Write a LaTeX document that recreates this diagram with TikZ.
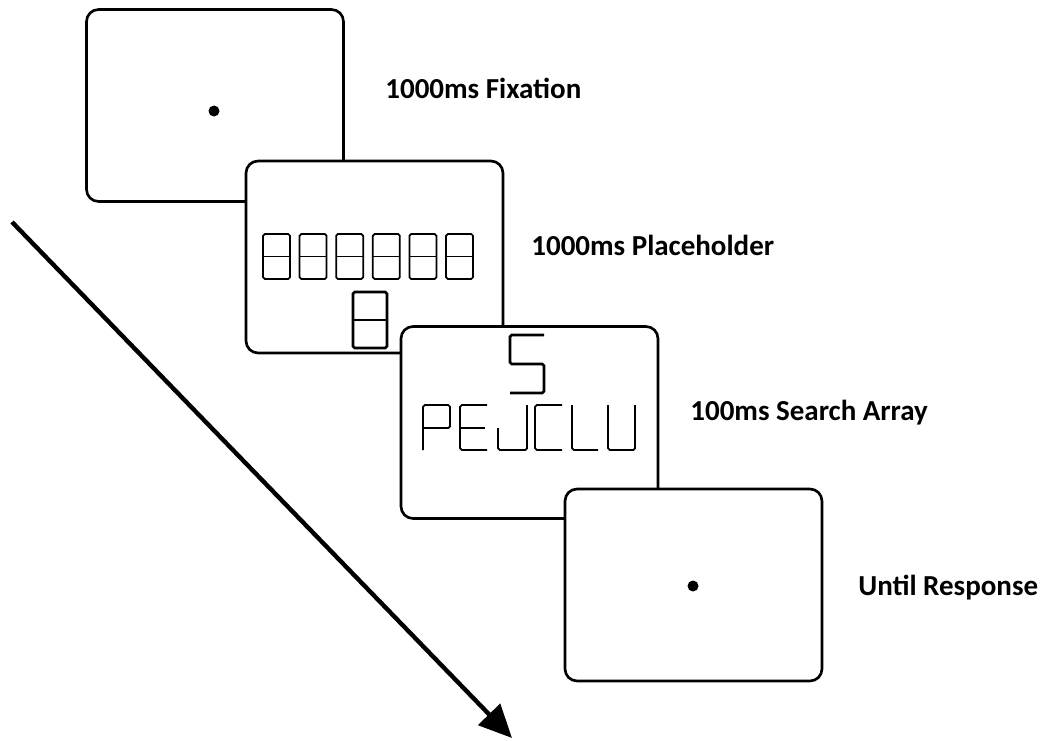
\documentclass[tikz,border=0pt]{standalone}
\usepackage{fontspec}
\newfontfamily\labelfont{Carlito}
\usetikzlibrary{arrows.meta}

\tikzset{
  screen/.style={draw, fill=white, line width=1.5pt, rounded corners=0.24cm,
    minimum width=5.14cm, minimum height=3.84cm, inner sep=0pt},
  steplabel/.style={anchor=base west, inner sep=0pt,
    font=\labelfont\bfseries\fontsize{16.5}{19}\selectfont},
  seg/.style={line width=1pt, rounded corners=1pt},
  bigseg/.style={line width=1.5pt, rounded corners=1pt}
}

\begin{document}
\begin{tikzpicture}[x=0.02cm, y=-0.02cm]
        \useasboundingbox (0,0) rectangle (1050,740);

        % time arrow
        \coordinate (tstart) at (12,222);
        \coordinate (tend) at (512,738);
        \draw[line width=2.5pt, -{Triangle[length=0.66cm, width=0.6cm]}] (tstart) -- (tend);

        % screens, later ones on top
        \node[screen] (fix) at (215,105.5) {};
        \fill (214,111) circle (0.11cm);
        \node[steplabel] (fixlabel) at (385,98) {1000ms Fixation};

        \node[screen] (place) at (374.5,257) {};
        \foreach \i in {0,...,5} {
            \draw[seg] (263+36.6*\i,234) rectangle ++(27,45);
            \draw[seg] (263+36.6*\i,256.5) -- ++(27,0);
        }
        \draw[bigseg] (353,292) rectangle (387,348);
        \draw[bigseg] (353,320) -- (387,320);
        \node[steplabel] (placelabel) at (531,255) {1000ms Placeholder};

        \node[screen] (search) at (529.5,422.5) {};
        \draw[bigseg] (544,335) -- (510,335) -- (510,364) -- (544,364) -- (544,393) -- (510,393);
        \begin{scope}[shift={(423,405)}]
            \draw[seg] (0,45) -- (0,0) -- (27,0) -- (27,23) -- (0,23);
        \end{scope}
        \begin{scope}[shift={(460,405)}]
            \draw[seg] (27,0) -- (0,0) -- (0,45) -- (27,45);
            \draw[seg] (0,23) -- (25,23);
        \end{scope}
        \begin{scope}[shift={(498,405)}]
            \draw[seg] (29,0) -- (29,45) -- (0,45) -- (0,23);
        \end{scope}
        \begin{scope}[shift={(535,405)}]
            \draw[seg] (27,0) -- (0,0) -- (0,45) -- (27,45);
        \end{scope}
        \begin{scope}[shift={(572,405)}]
            \draw[seg] (0,0) -- (0,45) -- (26,45);
        \end{scope}
        \begin{scope}[shift={(608,405)}]
            \draw[seg] (0,0) -- (0,45) -- (27,45) -- (27,0);
        \end{scope}
        \node[steplabel] (searchlabel) at (690,420) {100ms Search Array};

        \node[screen] (resp) at (693.5,585) {};
        \fill (693,586) circle (0.11cm);
        \node[steplabel] (resplabel) at (858,595) {Until Response};
    \end{tikzpicture}
\end{document}
